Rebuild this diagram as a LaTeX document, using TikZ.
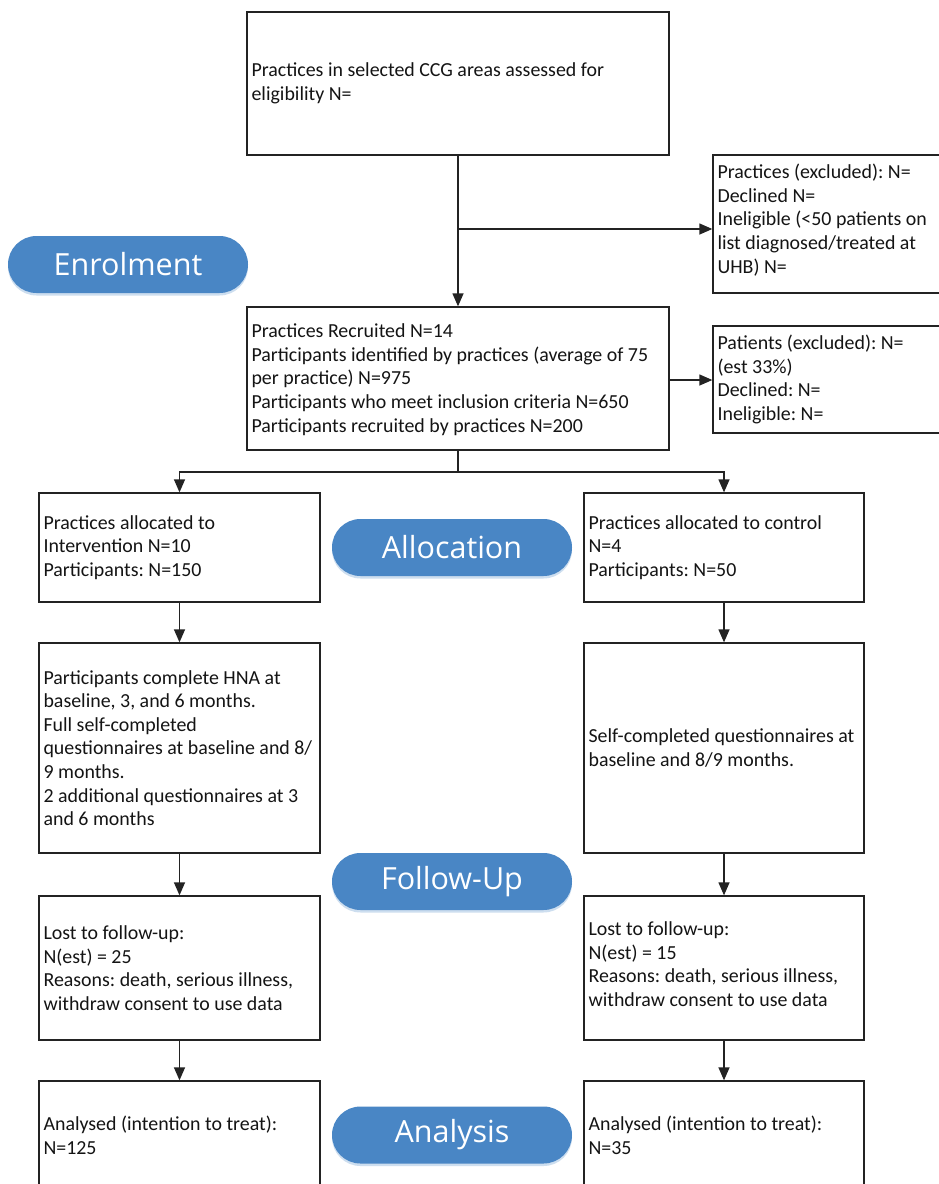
\documentclass[tikz,border=0pt]{standalone}
\usepackage{fontspec}
\newfontfamily\boxfont{Carlito}
\newfontfamily\pillfont{Open Sans}
\usetikzlibrary{arrows.meta,shapes.misc,shadows}
\definecolor{pillc}{RGB}{73,134,197}
\definecolor{linec}{RGB}{35,35,35}
\frenchspacing
\begin{document}
\begin{tikzpicture}[x=1pt,y=-1pt,
  box/.style={draw=linec, line width=1.3pt, rectangle, inner sep=0pt},
  txt/.style={anchor=west, inner sep=0pt, align=left, text=black!92,
    font={\boxfont\fontsize{19.9}{23.6}\selectfont}},
  pill/.style={rounded rectangle, fill=pillc, minimum width=240pt, minimum height=57pt,
    inner sep=0pt, text=white, font={\pillfont\fontsize{30.5}{36}\selectfont},
    drop shadow={shadow xshift=0pt, shadow yshift=-2.5pt, fill=pillc!45, opacity=0.6}},
  conn/.style={draw=linec, line width=1.3pt},
  arr/.style={conn, -{Triangle[width=11pt,length=13pt]}}
]
\useasboundingbox (0,0) rectangle (939,1184);
\fill[white] (0,0) rectangle (939,1184);
\clip (0,0) rectangle (939,1184);

% boxes
\node[box, minimum width=422pt, minimum height=143pt] (b1) at (458,83.5) {};
\node[box, minimum width=232pt, minimum height=138pt] (ex1) at (829,224) {};
\node[box, minimum width=422pt, minimum height=143pt] (b2) at (458,378.5) {};
\node[box, minimum width=232pt, minimum height=107pt] (ex2) at (829,379.5) {};
\node[box, minimum width=281pt, minimum height=109pt] (a1) at (179.5,547.5) {};
\node[box, minimum width=280pt, minimum height=109pt] (a2) at (724,547.5) {};
\node[box, minimum width=281pt, minimum height=210pt] (f1) at (179.5,748) {};
\node[box, minimum width=280pt, minimum height=210pt] (f2) at (724,748) {};
\node[box, minimum width=281pt, minimum height=144pt] (l1) at (179.5,968) {};
\node[box, minimum width=280pt, minimum height=144pt] (l2) at (724,968) {};
\node[box, minimum width=281pt, minimum height=109pt] (d1) at (179.5,1135.5) {};
\node[box, minimum width=280pt, minimum height=109pt] (d2) at (724,1135.5) {};

% texts
\node[txt] (t1) at ([xshift=5pt]b1.west) {Practices in selected CCG areas assessed for\\eligibility N=};
\node[txt] (tex1) at ([xshift=5pt,yshift=4pt]ex1.west) {Practices (excluded): N=\\Declined N=\\Ineligible (<50 patients on\\list diagnosed/treated at\\UHB) N=};
\node[txt] (t2) at ([xshift=5pt,yshift=-1pt]b2.west) {Practices Recruited N=14\\Participants identified by practices (average of 75\\per practice) N=975\\Participants who meet inclusion criteria N=650\\Participants recruited by practices N=200};
\node[txt] (tex2) at ([xshift=5pt]ex2.west) {Patients (excluded): N=\\(est 33\%)\\Declined: N=\\Ineligible: N=};
\node[txt] (ta1) at ([xshift=5pt]a1.west) {Practices allocated to\\Intervention N=10\\Participants: N=150};
\node[txt] (ta2) at ([xshift=5pt]a2.west) {Practices allocated to control\\N=4\\Participants: N=50};
\node[txt] (tf1) at ([xshift=5pt]f1.west) {Participants complete HNA at\\baseline, 3, and 6 months.\\Full self-completed\\questionnaires at baseline and 8/\\9 months.\\2 additional questionnaires at 3\\and 6 months};
\node[txt] (tf2) at ([xshift=5pt]f2.west) {Self-completed questionnaires at\\baseline and 8/9 months.};
\node[txt] (tl1) at ([xshift=5pt]l1.west) {Lost to follow-up:\\N(est) = 25\\Reasons: death, serious illness,\\withdraw consent to use data};
\node[txt] (tl2) at ([xshift=5pt,yshift=4pt]l2.west) {Lost to follow-up:\\N(est) = 15\\Reasons: death, serious illness,\\withdraw consent to use data};
\node[txt] (td1) at ([xshift=5pt]d1.west) {Analysed (intention to treat):\\N=125};
\node[txt] (td2) at ([xshift=5pt]d2.west) {Analysed (intention to treat):\\N=35};

% pills
\node[pill] (penr) at (128,264.5) {Enrolment};
\node[pill] (palloc) at (452,547.5) {Allocation};
\node[pill] (pfol) at (452,881.5) {Follow-Up};
\node[pill] (pana) at (452,1135) {Analysis};

% connectors
\draw[arr] (b1.south) -- (b2.north);
\coordinate (j1) at (458,229);
\draw[arr] (j1) -- (j1 -| ex1.west);
\draw[arr] (b2.east |- 0,380) -- (ex2.west |- 0,380);
\coordinate (j2) at (458,472);
\draw[conn] (b2.south) -- (j2);
\draw[arr] (j2) -| (a1.north);
\draw[arr] (j2) -| (a2.north);
\draw[arr] (a1.south) -- (f1.north);
\draw[arr] (a2.south) -- (f2.north);
\draw[arr] (f1.south) -- (l1.north);
\draw[arr] (f2.south) -- (l2.north);
\draw[arr] (l1.south) -- (d1.north);
\draw[arr] (l2.south) -- (d2.north);
\end{tikzpicture}
\end{document}
